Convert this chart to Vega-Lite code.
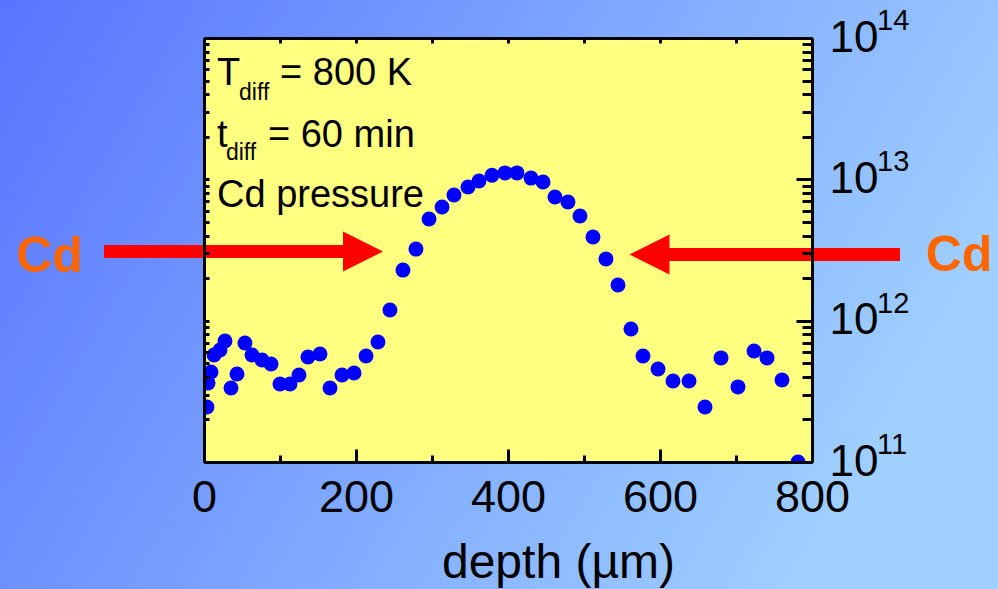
{
  "$schema": "https://vega.github.io/schema/vega-lite/v6.json",
  "width": 608,
  "height": 424,
  "autosize": "none",
  "padding": {"left": 204, "top": 38, "right": 186, "bottom": 127},
  "background": "#7aa0ff",
  "config": {"view": {"stroke": null}},
  "datasets": {
    "profile": [
      {"depth": 3.9, "conc": 2.45e11},
      {"depth": 5.3, "conc": 3.62e11},
      {"depth": 9.2, "conc": 4.33e11},
      {"depth": 13.2, "conc": 5.72e11},
      {"depth": 21.1, "conc": 6.2e11},
      {"depth": 27.6, "conc": 7.18e11},
      {"depth": 35.5, "conc": 3.34e11},
      {"depth": 43.4, "conc": 4.19e11},
      {"depth": 53.9, "conc": 6.95e11},
      {"depth": 63.2, "conc": 5.72e11},
      {"depth": 76.3, "conc": 5.27e11},
      {"depth": 88.2, "conc": 4.94e11},
      {"depth": 100.0, "conc": 3.56e11},
      {"depth": 113.2, "conc": 3.56e11},
      {"depth": 125.0, "conc": 4.13e11},
      {"depth": 136.8, "conc": 5.53e11},
      {"depth": 152.6, "conc": 5.81e11},
      {"depth": 165.8, "conc": 3.34e11},
      {"depth": 181.6, "conc": 4.13e11},
      {"depth": 197.4, "conc": 4.26e11},
      {"depth": 213.2, "conc": 5.62e11},
      {"depth": 228.9, "conc": 7.06e11},
      {"depth": 244.7, "conc": 1.19e12},
      {"depth": 261.8, "conc": 2.28e12},
      {"depth": 278.9, "conc": 3.21e12},
      {"depth": 296.1, "conc": 5.24e12},
      {"depth": 313.2, "conc": 6.37e12},
      {"depth": 328.9, "conc": 7.75e12},
      {"depth": 347.4, "conc": 8.83e12},
      {"depth": 361.8, "conc": 9.73e12},
      {"depth": 378.9, "conc": 1.07e13},
      {"depth": 396.1, "conc": 1.11e13},
      {"depth": 411.8, "conc": 1.11e13},
      {"depth": 430.3, "conc": 1.02e13},
      {"depth": 446.1, "conc": 9.57e12},
      {"depth": 461.8, "conc": 7.5e12},
      {"depth": 478.9, "conc": 6.91e12},
      {"depth": 494.7, "conc": 5.5e12},
      {"depth": 511.8, "conc": 3.91e12},
      {"depth": 528.9, "conc": 2.73e12},
      {"depth": 544.7, "conc": 1.79e12},
      {"depth": 561.8, "conc": 8.73e11},
      {"depth": 577.6, "conc": 5.62e11},
      {"depth": 597.4, "conc": 4.55e11},
      {"depth": 617.1, "conc": 3.74e11},
      {"depth": 638.2, "conc": 3.74e11},
      {"depth": 659.2, "conc": 2.45e11},
      {"depth": 680.3, "conc": 5.45e11},
      {"depth": 702.6, "conc": 3.4e11},
      {"depth": 723.7, "conc": 6.1e11},
      {"depth": 740.8, "conc": 5.45e11},
      {"depth": 760.5, "conc": 3.8e11},
      {"depth": 781.6, "conc": 1.0e11}
    ],
    "shafts": [
      {"start": -131.6, "end": 192.1, "conc": 3.086e12},
      {"start": 915.8, "end": 600.0, "conc": 2.94e12}
    ],
    "heads": [
      {"depth": 209.2, "conc": 3.086e12, "dir": "right"},
      {"depth": 586.2, "conc": 2.94e12, "dir": "left"}
    ],
    "notes": [
      {"depth": 17.1, "conc": 4.65e13, "label": "T"},
      {"depth": 100.0, "conc": 4.65e13, "label": "= 800 K"},
      {"depth": 17.1, "conc": 1.693e13, "label": "t"},
      {"depth": 84.2, "conc": 1.693e13, "label": "= 60 min"},
      {"depth": 17.1, "conc": 6.37e12, "label": "Cd pressure"}
    ],
    "subs": [
      {"depth": 46.1, "conc": 3.64e13, "label": "diff"},
      {"depth": 28.9, "conc": 1.37e13, "label": "diff"}
    ],
    "exponents": [
      {"depth": 800, "conc": 100000000000, "label": "11"},
      {"depth": 800, "conc": 1000000000000, "label": "12"},
      {"depth": 800, "conc": 10000000000000, "label": "13"},
      {"depth": 800, "conc": 100000000000000, "label": "14"}
    ],
    "cd": [
      {"depth": -203.3, "conc": 2.21e12, "label": "Cd"},
      {"depth": 993.4, "conc": 2.245e12, "label": "Cd"}
    ]
  },
  "layer": [
    {
      "data": {"values": [{}]},
      "mark": {
        "type": "rect",
        "fill": {
          "gradient": "linear", "x1": 0, "y1": 0, "x2": 1, "y2": 0.35,
          "stops": [
            {"offset": 0, "color": "#5571ff"},
            {"offset": 0.5, "color": "#7aa2ff"},
            {"offset": 1, "color": "#a0d0ff"}
          ]
        }
      },
      "encoding": {
        "x": {"datum": -300, "type": "quantitative", "scale": {"domain": [0, 800], "nice": false, "zero": false}, "axis": null},
        "x2": {"datum": 1100},
        "y": {"datum": 300000000000000, "type": "quantitative", "scale": {"type": "log", "domain": [100000000000, 100000000000000], "nice": false}, "axis": null},
        "y2": {"datum": 10000000000}
      }
    },
    {
      "data": {"values": [{}]},
      "mark": {"type": "rect", "fill": "#ffff80"},
      "encoding": {
        "x": {
          "datum": 0, "type": "quantitative",
          "scale": {"domain": [0, 800], "nice": false, "zero": false},
          "axis": {
            "orient": "top", "values": [0, 100, 200, 300, 400, 500, 600, 700, 800],
            "labels": false, "title": null, "grid": false, "zindex": 1,
            "tickSize": -5, "tickWidth": 3, "tickColor": "black",
            "domainColor": "black", "domainWidth": 3
          }
        },
        "x2": {"datum": 800},
        "y": {
          "datum": 100000000000, "type": "quantitative",
          "scale": {"type": "log", "domain": [100000000000, 100000000000000], "nice": false},
          "axis": {
            "orient": "left",
            "values": [100000000000, 200000000000, 300000000000, 400000000000, 500000000000, 600000000000, 700000000000, 800000000000, 900000000000, 1000000000000, 2000000000000, 3000000000000, 4000000000000, 5000000000000, 6000000000000, 7000000000000, 8000000000000, 9000000000000, 10000000000000, 20000000000000, 30000000000000, 40000000000000, 50000000000000, 60000000000000, 70000000000000, 80000000000000, 90000000000000, 100000000000000],
            "labels": false, "title": null, "grid": false, "zindex": 1,
            "tickSize": -5, "tickWidth": 3, "tickColor": "black",
            "domainColor": "black", "domainWidth": 3
          }
        },
        "y2": {"datum": 100000000000000}
      }
    },
    {
      "data": {"name": "profile"},
      "mark": {"type": "circle", "size": 225, "color": "#0000ff", "opacity": 1, "clip": true},
      "encoding": {
        "x": {
          "field": "depth", "type": "quantitative",
          "scale": {"domain": [0, 800], "nice": false, "zero": false},
          "axis": {
            "orient": "bottom", "values": [0, 100, 200, 300, 400, 500, 600, 700, 800],
            "labelExpr": "datum.value % 200 == 0 ? datum.label : ''",
            "tickSize": {"condition": {"test": "datum.value % 200 == 0", "value": -13}, "value": -7},
            "tickWidth": 3, "tickColor": "black", "domainColor": "black", "domainWidth": 3,
            "labelPadding": 26, "labelFont": "Liberation Sans", "labelFontSize": 45, "labelColor": "black",
            "labelOverlap": false, "labelBound": false, "labelFlush": false,
            "grid": false, "zindex": 1,
            "title": "depth (µm)", "titleFont": "Liberation Sans", "titleFontSize": 48, "titleFontWeight": "normal",
            "titleColor": "black", "titleX": 354, "titleY": 115, "titleBaseline": "alphabetic", "titleAlign": "center"
          }
        },
        "y": {
          "field": "conc", "type": "quantitative",
          "scale": {"type": "log", "domain": [100000000000, 100000000000000], "nice": false},
          "axis": {
            "orient": "right",
            "values": [100000000000, 200000000000, 300000000000, 400000000000, 500000000000, 600000000000, 700000000000, 800000000000, 900000000000, 1000000000000, 2000000000000, 3000000000000, 4000000000000, 5000000000000, 6000000000000, 7000000000000, 8000000000000, 9000000000000, 10000000000000, 20000000000000, 30000000000000, 40000000000000, 50000000000000, 60000000000000, 70000000000000, 80000000000000, 90000000000000, 100000000000000],
            "labelExpr": "(datum.value == 100000000000 || datum.value == 1000000000000 || datum.value == 10000000000000 || datum.value == 100000000000000) ? '10' : ''",
            "tickSize": {"condition": {"test": "datum.value == 100000000000 || datum.value == 1000000000000 || datum.value == 10000000000000 || datum.value == 100000000000000", "value": -16}, "value": -10},
            "tickWidth": 3, "tickColor": "black", "domainColor": "black", "domainWidth": 3,
            "labelPadding": 33, "labelAlign": "left", "labelBaseline": "middle",
            "labelFont": "Liberation Sans", "labelFontSize": 44, "labelColor": "black",
            "labelOverlap": false, "labelBound": false, "labelFlush": false,
            "grid": false, "zindex": 1, "title": null
          }
        }
      }
    },
    {
      "data": {"name": "shafts"},
      "mark": {"type": "rule", "color": "#ff0000", "strokeWidth": 13, "strokeCap": "butt"},
      "encoding": {
        "x": {"field": "start", "type": "quantitative", "scale": {"domain": [0, 800], "nice": false, "zero": false}, "axis": null},
        "x2": {"field": "end"},
        "y": {"field": "conc", "type": "quantitative", "scale": {"type": "log", "domain": [100000000000, 100000000000000], "nice": false}, "axis": null}
      }
    },
    {
      "data": {"name": "heads"},
      "mark": {"type": "point", "filled": true, "size": 1600, "color": "#ff0000", "opacity": 1, "strokeWidth": 0},
      "encoding": {
        "x": {"field": "depth", "type": "quantitative", "scale": {"domain": [0, 800], "nice": false, "zero": false}, "axis": null},
        "y": {"field": "conc", "type": "quantitative", "scale": {"type": "log", "domain": [100000000000, 100000000000000], "nice": false}, "axis": null},
        "shape": {"field": "dir", "type": "nominal", "scale": {"domain": ["right", "left"], "range": ["M-1,-1L1,0L-1,1Z", "M1,-1L-1,0L1,1Z"]}, "legend": null}
      }
    },
    {
      "data": {"name": "notes"},
      "mark": {"type": "text", "font": "Liberation Sans", "fontSize": 38, "color": "black", "align": "left", "baseline": "alphabetic"},
      "encoding": {
        "x": {"field": "depth", "type": "quantitative", "scale": {"domain": [0, 800], "nice": false, "zero": false}, "axis": null},
        "y": {"field": "conc", "type": "quantitative", "scale": {"type": "log", "domain": [100000000000, 100000000000000], "nice": false}, "axis": null},
        "text": {"field": "label", "type": "nominal"}
      }
    },
    {
      "data": {"name": "subs"},
      "mark": {"type": "text", "font": "Liberation Sans", "fontSize": 23, "color": "black", "align": "left", "baseline": "alphabetic"},
      "encoding": {
        "x": {"field": "depth", "type": "quantitative", "scale": {"domain": [0, 800], "nice": false, "zero": false}, "axis": null},
        "y": {"field": "conc", "type": "quantitative", "scale": {"type": "log", "domain": [100000000000, 100000000000000], "nice": false}, "axis": null},
        "text": {"field": "label", "type": "nominal"}
      }
    },
    {
      "data": {"name": "exponents"},
      "mark": {"type": "text", "font": "Liberation Sans", "fontSize": 29, "color": "black", "align": "left", "baseline": "alphabetic", "dx": 65, "dy": -8},
      "encoding": {
        "x": {"field": "depth", "type": "quantitative", "scale": {"domain": [0, 800], "nice": false, "zero": false}, "axis": null},
        "y": {"field": "conc", "type": "quantitative", "scale": {"type": "log", "domain": [100000000000, 100000000000000], "nice": false}, "axis": null},
        "text": {"field": "label", "type": "nominal"}
      }
    },
    {
      "data": {"name": "cd"},
      "mark": {"type": "text", "font": "Liberation Sans", "fontSize": 50, "fontWeight": "bold", "color": "#ff6600", "align": "center", "baseline": "alphabetic"},
      "encoding": {
        "x": {"field": "depth", "type": "quantitative", "scale": {"domain": [0, 800], "nice": false, "zero": false}, "axis": null},
        "y": {"field": "conc", "type": "quantitative", "scale": {"type": "log", "domain": [100000000000, 100000000000000], "nice": false}, "axis": null},
        "text": {"field": "label", "type": "nominal"}
      }
    }
  ],
  "resolve": {"axis": {"x": "independent", "y": "independent"}}
}
